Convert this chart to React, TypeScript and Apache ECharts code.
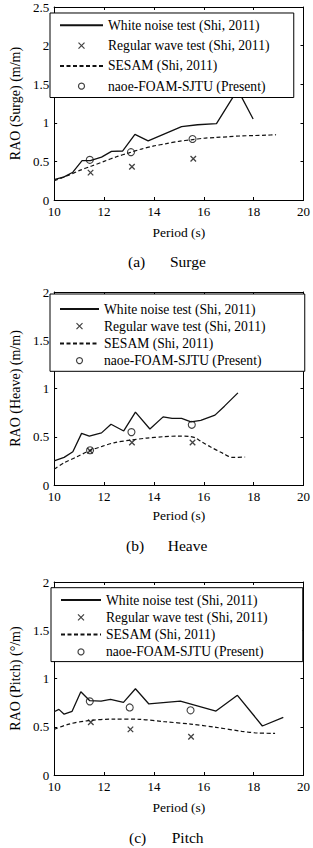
import React, { useEffect, useRef } from "react";
import * as echarts from "echarts";

// ---------- data (period T [s], RAO) ----------
const legendNames = [
  "White noise test (Shi, 2011)",
  "Regular wave test (Shi, 2011)",
  "SESAM (Shi, 2011)",
  "naoe-FOAM-SJTU (Present)",
];

const surgeWhiteNoise = [
  [10, 0.265], [10.4, 0.3], [10.75, 0.36], [11.12, 0.51], [11.45, 0.51], [11.9, 0.555],
  [12.3, 0.63], [12.75, 0.635], [13.24, 0.85], [13.77, 0.765], [15.11, 0.95], [15.75, 0.975],
  [16.51, 0.99], [17.36, 1.43], [17.98, 1.05],
];
const surgeRegular = [[11.46, 0.355], [13.12, 0.43], [15.58, 0.535]];
const surgeSesam = [
  [10, 0.25], [10.5, 0.31], [11, 0.38], [11.5, 0.44], [12, 0.5], [12.5, 0.56], [13, 0.61],
  [13.5, 0.66], [14, 0.7], [14.5, 0.73], [15, 0.76], [15.5, 0.78], [16, 0.8], [16.5, 0.81],
  [17, 0.82], [17.5, 0.83], [18, 0.835], [18.5, 0.84], [18.9, 0.845],
];
const surgePresent = [[11.43, 0.52], [13.08, 0.62], [15.55, 0.79]];

const heaveWhiteNoise = [
  [10, 0.25], [10.4, 0.286], [10.75, 0.345], [11.1, 0.535], [11.41, 0.507], [11.9, 0.54],
  [12.28, 0.63], [12.79, 0.56], [13.26, 0.755], [13.84, 0.58], [14.37, 0.706], [14.73, 0.69],
  [15.11, 0.69], [15.49, 0.655], [15.88, 0.67], [16.45, 0.724], [16.83, 0.817], [17.37, 0.955],
];
const heaveRegular = [[11.44, 0.355], [13.12, 0.44], [15.55, 0.44]];
const heaveSesam = [
  [10, 0.165], [10.4, 0.23], [10.9, 0.29], [11.41, 0.355], [11.92, 0.4], [12.43, 0.44],
  [13.07, 0.465], [13.71, 0.486], [14.35, 0.5], [14.98, 0.507], [15.4, 0.503], [15.65, 0.49],
  [15.9, 0.45], [16.26, 0.396], [16.77, 0.328], [17.15, 0.286], [17.66, 0.29],
];
const heavePresent = [[11.44, 0.36], [13.1, 0.548], [15.52, 0.624]];

const pitchWhiteNoise = [
  [10, 0.655], [10.19, 0.68], [10.4, 0.63], [10.72, 0.66], [11.07, 0.863], [11.43, 0.77],
  [11.88, 0.766], [12.26, 0.784], [12.78, 0.753], [13.26, 0.894], [13.8, 0.736], [15.06, 0.766],
  [16.49, 0.663], [17.35, 0.826], [18.35, 0.508], [19.19, 0.598],
];
const pitchRegular = [[11.47, 0.546], [13.06, 0.473], [15.49, 0.397]];
const pitchSesam = [
  [10, 0.473], [10.6, 0.528], [11.36, 0.563], [12.39, 0.58], [13.42, 0.577], [14.44, 0.552],
  [15.47, 0.528], [16.49, 0.494], [17.52, 0.453], [18.16, 0.435], [18.86, 0.432],
];
const pitchPresent = [[11.43, 0.763], [13.03, 0.7], [15.47, 0.67]];

const periodRange = [10, 20];
const periodStep = 2;
const raoStep = 0.5;

const FONT = "Liberation Serif";

const panels = [
  {
    grid: { left: 43, top: 7, width: 261.5, height: 193 },
    yMax: 2.5,
    yName: "RAO (Surge) (m/m)",
    xNameGap: 25,
    caption: [{ t: "(a)", x: 128 }, { t: "Surge", x: 170 }],
    captionY: 261,
    legend: { left: 50, top: 13, itemWidth: 43, itemGap: 4.3, padding: [4.3, 24.3, 3.3, 9] },
    data: [surgeWhiteNoise, surgeRegular, surgeSesam, surgePresent],
  },
  {
    grid: { left: 43, top: 292, width: 261.5, height: 193 },
    yMax: 2,
    yName: "RAO (Heave) (m/m)",
    xNameGap: 23.5,
    caption: [{ t: "(b)", x: 126 }, { t: "Heave", x: 167.7 }],
    captionY: 545.7,
    legend: { left: 50, top: 294, itemWidth: 39, itemGap: 1.2, padding: [7, 39.3, 2.7, 9] },
    data: [heaveWhiteNoise, heaveRegular, heaveSesam, heavePresent],
  },
  {
    grid: { left: 44.5, top: 582, width: 260, height: 193 },
    yMax: 2,
    yName: "RAO (Pitch) (\u00b0/m)",
    xNameGap: 25,
    caption: [{ t: "(c)", x: 129 }, { t: "Pitch", x: 171.7 }],
    captionY: 837.7,
    legend: { left: 51, top: 587.7, itemWidth: 40, itemGap: 1.3, padding: [4.3, 35.3, 1.7, 9] },
    data: [pitchWhiteNoise, pitchRegular, pitchSesam, pitchPresent],
  },
];

const CROSS = "path://M0,0L10,10M0,10L10,0";

function buildOption() {
  const grid: any[] = [];
  const xAxis: any[] = [];
  const yAxis: any[] = [];
  const series: any[] = [];
  const legend: any[] = [];
  const graphic: any[] = [];
  const txt = { color: "#000", fontFamily: FONT, fontWeight: "normal" as const, fontStyle: "normal" as const };

  panels.forEach((p, i) => {
    grid.push({ ...p.grid, containLabel: false });
    const lineStyle = { color: "#000", width: 1 };
    const tick = { show: true, inside: true, length: 3, lineStyle: { color: "#000", width: 1 } };
    xAxis.push({
      type: "value", gridIndex: i, position: "bottom",
      min: periodRange[0], max: periodRange[1], interval: periodStep,
      axisLine: { show: true, onZero: false, lineStyle },
      axisTick: tick,
      axisLabel: { ...txt, fontSize: 13, margin: 5 },
      splitLine: { show: false },
      name: "Period (s)", nameLocation: "middle", nameGap: p.xNameGap,
      nameTextStyle: { ...txt, fontSize: 13.5 },
    });
    xAxis.push({
      type: "value", gridIndex: i, position: "top",
      min: periodRange[0], max: periodRange[1], interval: periodStep,
      axisLine: { show: true, onZero: false, lineStyle },
      axisTick: tick, axisLabel: { show: false }, splitLine: { show: false },
    });
    yAxis.push({
      type: "value", gridIndex: i, position: "left",
      min: 0, max: p.yMax, interval: raoStep,
      axisLine: { show: true, onZero: false, lineStyle },
      axisTick: tick,
      axisLabel: { ...txt, fontSize: 13, margin: 5 },
      splitLine: { show: false },
      name: p.yName, nameLocation: "middle", nameGap: 26, nameRotate: 90,
      nameTextStyle: { ...txt, fontSize: 14 },
    });
    yAxis.push({
      type: "value", gridIndex: i, position: "right",
      min: 0, max: p.yMax, interval: raoStep,
      axisLine: { show: true, onZero: false, lineStyle },
      axisTick: tick, axisLabel: { show: false }, splitLine: { show: false },
    });

    const xi = 2 * i;
    const yi = 2 * i;
    series.push({
      type: "line", name: legendNames[0], xAxisIndex: xi, yAxisIndex: yi,
      data: p.data[0], symbol: "none",
      lineStyle: { color: "#111", width: 1.3 }, itemStyle: { color: "#111" }, z: 2,
    });
    series.push({
      type: "scatter", name: legendNames[1], xAxisIndex: xi, yAxisIndex: yi,
      data: p.data[1], symbol: CROSS, symbolSize: 5.5,
      itemStyle: { color: "none", borderColor: "#111", borderWidth: 1.3 }, z: 3,
    });
    series.push({
      type: "line", name: legendNames[2], xAxisIndex: xi, yAxisIndex: yi,
      data: p.data[2], symbol: "none", smooth: 0.3,
      lineStyle: { color: "#111", width: 1.2, type: [4, 2.5] }, itemStyle: { color: "#111" }, z: 2,
    });
    series.push({
      type: "scatter", name: legendNames[3], xAxisIndex: xi, yAxisIndex: yi,
      data: p.data[3], symbol: "circle", symbolSize: 7,
      itemStyle: { color: "none", borderColor: "#111", borderWidth: 1.1 }, z: 3,
    });

    const pad = p.legend.padding;
    legend.push({
      orient: "vertical",
      left: p.legend.left, top: p.legend.top,
      padding: [pad[0] + 1, pad[1], pad[2] + 1, pad[3]],
      itemWidth: p.legend.itemWidth, itemHeight: 6, itemGap: p.legend.itemGap + 2,
      backgroundColor: "#fff", borderColor: "#000", borderWidth: 1,
      selectedMode: false,
      itemStyle: { borderWidth: 1.2 },
      textStyle: { ...txt, fontSize: 13.6, lineHeight: 14 },
      data: [
        { name: legendNames[0], itemStyle: { opacity: 0 } },
        { name: legendNames[1] },
        { name: legendNames[2], itemStyle: { opacity: 0 } },
        { name: legendNames[3] },
      ],
      z: 10,
    });

    p.caption.forEach((c) => {
      graphic.push({
        type: "text", x: c.x, y: p.captionY,
        style: { text: c.t, fill: "#000", fontSize: 15.5, fontFamily: FONT, fontWeight: "normal", verticalAlign: "middle", align: "left" },
      });
    });
  });

  return { animation: false, backgroundColor: "#fff", grid, xAxis, yAxis, series, legend, graphic };
}

export default function App() {
  const ref = useRef<HTMLDivElement>(null);
  useEffect(() => {
    if (!ref.current) return;
    const chart = echarts.init(ref.current, undefined, { renderer: "svg" });
    chart.setOption(buildOption() as any);
    return () => chart.dispose();
  }, []);
  return (
    <div
      ref={ref}
      style={{ position: "absolute", left: 0, top: 0, width: 313, height: 848, background: "#fff" }}
    />
  );
}
